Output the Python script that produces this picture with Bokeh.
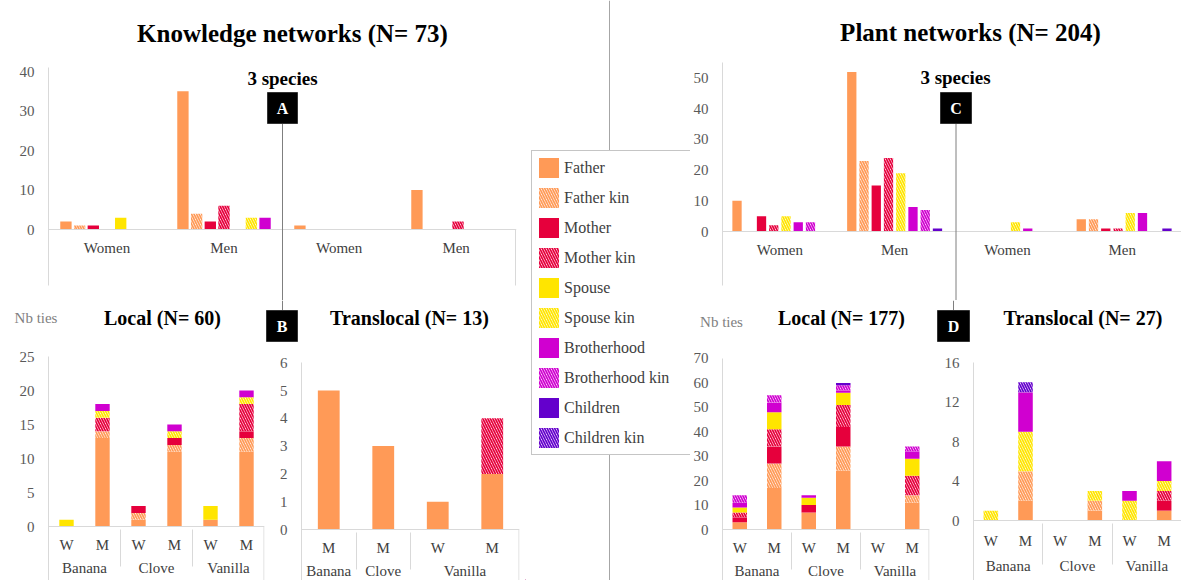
from bokeh.plotting import figure
from bokeh.models import (ColumnDataSource, FactorRange, Range1d, FixedTicker, Label, Arrow,
                          BoxAnnotation, Legend, LegendItem, Span)
from bokeh.layouts import row, column
from bokeh.transform import dodge, stack
from bokeh.embed import file_html
from bokeh.resources import INLINE

FONT = "Liberation Serif"

# ---------------- data ----------------
legend_names = ["Father", "Father kin", "Mother", "Mother kin", "Spouse", "Spouse kin",
                "Brotherhood", "Brotherhood kin", "Children", "Children kin"]

# Knowledge networks, 3 species (local Women/Men, translocal Women/Men)
kn_top_cats = ["Women", "Men", "Women ", "Men "]
kn_top = {
    "Father":      [2, 35, 1, 10],
    "Father kin":  [1, 4, 0, 0],
    "Mother":      [1, 2, 0, 0],
    "Mother kin":  [0, 6, 0, 2],
    "Spouse":      [3, 0, 0, 0],
    "Spouse kin":  [0, 3, 0, 0],
    "Brotherhood": [0, 3, 0, 0],
}
# Plant networks, 3 species
pl_top_cats = ["Women", "Men", "Women ", "Men "]
pl_top = {
    "Father":          [10, 52, 0, 4],
    "Father kin":      [0, 23, 0, 4],
    "Mother":          [5, 15, 0, 1],
    "Mother kin":      [2, 24, 0, 1],
    "Spouse":          [5, 19, 3, 6],
    "Brotherhood":     [3, 8, 1, 6],
    "Brotherhood kin": [3, 7, 0, 0],
    "Children":        [0, 1, 0, 1],
}

six_factors = [("Banana", "W"), ("Banana", "M"), ("Clove", "W"), ("Clove", "M"),
               ("Vanilla", "W"), ("Vanilla", "M")]

kn_local = {
    "Father":      [0, 13, 1, 11, 1, 11],
    "Father kin":  [0, 1, 1, 1, 0, 2],
    "Mother":      [0, 0, 1, 1, 0, 1],
    "Mother kin":  [0, 2, 0, 0, 0, 4],
    "Spouse":      [1, 0, 0, 0, 2, 0],
    "Spouse kin":  [0, 1, 0, 1, 0, 1],
    "Brotherhood": [0, 1, 0, 1, 0, 1],
}
kn_trans_factors = [("Banana", "M"), ("Clove", "M"), ("Vanilla", "W"), ("Vanilla", "M")]
kn_trans = {
    "Father":     [5, 3, 1, 2],
    "Mother kin": [0, 0, 0, 2],
}
pl_local = {
    "Father":          [3, 17, 7, 24, 0, 11],
    "Father kin":      [0, 10, 0, 10, 0, 3],
    "Mother":          [2, 7, 3, 8, 0, 0],
    "Mother kin":      [2, 7, 0, 9, 0, 8],
    "Spouse":          [2, 7, 3, 5, 0, 7],
    "Brotherhood":     [2, 4, 1, 1, 0, 3],
    "Brotherhood kin": [3, 3, 0, 2, 0, 2],
    "Children":        [0, 0, 0, 1, 0, 0],
}
pl_trans = {
    "Father":       [0, 2, 0, 1, 0, 1],
    "Father kin":   [0, 3, 0, 1, 0, 0],
    "Mother":       [0, 0, 0, 0, 0, 1],
    "Mother kin":   [0, 0, 0, 0, 0, 1],
    "Spouse kin":   [1, 4, 0, 1, 2, 1],
    "Brotherhood":  [0, 4, 0, 0, 1, 2],
    "Children kin": [0, 1, 0, 0, 0, 0],
}

# ---------------- styles ----------------
COLORS = {"Father": "#FF9A57", "Mother": "#E6003C", "Spouse": "#FFE500",
          "Brotherhood": "#D000D0", "Children": "#6400CC"}
AXIS_GREY = "#d9d9d9"
LINK_GREY = "#7f7f7f"


def style(name, hatched=None):
    col = COLORS[name.replace(" kin", "")]
    h = name.endswith(" kin") if hatched is None else hatched
    if h:
        return dict(fill_color="white", hatch_pattern="left_diagonal_line", hatch_color=col,
                    hatch_weight=1.7, hatch_scale=5, line_color=None)
    return dict(fill_color=col, line_color=None)


def no_align(p):
    try:
        p.frame_align = False
    except Exception:
        pass
    return p


def make_fig(w, h, xr, yr, ml, mr):
    p = figure(width=w, height=h, x_range=xr, y_range=yr, output_backend="svg",
               toolbar_location=None, tools="", min_border_left=ml, min_border_right=mr,
               min_border_top=0, min_border_bottom=0, outline_line_color=None,
               background_fill_color="white", border_fill_color="white")
    p.xgrid.visible = False
    p.ygrid.visible = False
    return no_align(p)


def blank_fig(w, h):
    p = figure(width=w, height=h, x_range=Range1d(0, w), y_range=Range1d(0, h),
               output_backend="svg", toolbar_location=None, tools="", min_border=0,
               x_axis_location=None, y_axis_location=None, outline_line_color=None,
               background_fill_color="white", border_fill_color="white")
    p.xgrid.visible = False
    p.ygrid.visible = False
    return no_align(p)


def style_axes(p, yticks, ybounds, xstandoff, nested):
    ya = p.yaxis[0]
    ya.ticker = FixedTicker(ticks=yticks)
    ya.bounds = ybounds
    ya.axis_line_color = AXIS_GREY
    ya.major_tick_line_color = None
    ya.minor_tick_line_color = None
    ya.major_label_text_font = FONT
    ya.major_label_text_font_size = "15px"
    ya.major_label_text_color = "#595959"
    ya.major_label_standoff = 8
    xa = p.xaxis[0]
    xa.fixed_location = 0
    xa.axis_line_color = AXIS_GREY
    xa.major_tick_line_color = None
    xa.minor_tick_line_color = None
    xa.major_label_text_font = FONT
    xa.major_label_text_font_size = "15px"
    xa.major_label_text_color = "#404040"
    xa.major_label_standoff = xstandoff
    if nested:
        xa.group_text_font = FONT
        xa.group_text_font_size = "15px"
        xa.group_text_font_style = "normal"
        xa.group_text_color = "#404040"
        try:
            xa.separator_line_color = AXIS_GREY
            xa.separator_line_width = 1
        except Exception:
            pass


def label(p, x, y, text, size, bold=True, color="black"):
    p.add_layout(Label(x=x, y=y, x_units="screen", y_units="screen", text=text,
                       text_font=FONT, text_font_size=size,
                       text_font_style="bold" if bold else "normal", text_color=color,
                       text_align="center", text_baseline="middle"))


def vline(p, x, y0, y1, color=AXIS_GREY):
    p.add_layout(Arrow(end=None, x_start=x, y_start=y0, x_end=x, y_end=y1,
                       start_units="screen", end_units="screen",
                       line_color=color, line_width=1))


def tag(p, left, right, top, bottom, letter):
    p.add_layout(BoxAnnotation(left=left, right=right, top=top, bottom=bottom,
                               left_units="screen", right_units="screen",
                               top_units="screen", bottom_units="screen",
                               fill_color="black", fill_alpha=1, line_color="#333333",
                               line_alpha=1, line_width=1))
    label(p, (left + right) / 2, (top + bottom) / 2, letter, "16px", True, "white")


def clustered(p, cats, data, slot, width, hatched=None):
    hatched = hatched or {}
    src = ColumnDataSource(dict(cat=cats, **data))
    n = len(data)
    for i, name in enumerate(data):
        off = (i - (n - 1) / 2) * slot
        p.vbar(x=dodge("cat", off, range=p.x_range), top=name, width=width, source=src,
               **style(name, hatched.get(name)))


def stacked(p, factors, data, width):
    src = ColumnDataSource(dict(x=factors, **data))
    prev = []
    for name in data:
        p.vbar(x="x", bottom=stack(*prev), top=stack(*prev, name), width=width, source=src,
               **style(name))
        prev.append(name)


def frange(factors):
    return FactorRange(*factors, group_padding=0, factor_padding=0, range_padding=0)


def flat_range(cats):
    return FactorRange(*cats, factor_padding=0, range_padding=0)


# Vertical bands (page pixels): top charts 0..300, sub-title strip 300..344, bottom 344..580
TOP_H, STRIP_H, BOT_H = 300, 44, 236

# ================= LEFT: Knowledge networks (x 0..525) =================
# top clustered chart: frame 48..516, zero at y=229 (3.95 px / tie)
kt = make_fig(525, TOP_H, flat_range(kn_top_cats), Range1d(-71 / 3.95, 229 / 3.95), 48, 9)
style_axes(kt, [0, 10, 20, 30, 40], (-56 / 3.95, 41), 4, False)
clustered(kt, kn_top_cats, kn_top, 0.117, 0.097)
label(kt, 244, 267, "Knowledge networks (N= 73)", "25px")
label(kt, 234, 222, "3 species", "19px")
vline(kt, 467, 71, 15)
vline(kt, 234, 177, 0, LINK_GREY)
tag(kt, 219, 249, 208, 177, "A")

# strip with sub-titles and the B tag (page y 300..344)
kh = blank_fig(525, STRIP_H)
label(kh, 35.5, 27, "Nb ties", "15px", False, "#7f7f7f")
label(kh, 162, 27, "Local (N= 60)", "20px")
label(kh, 409, 27, "Translocal (N= 13)", "20px")
vline(kh, 282, 44, 34, LINK_GREY)
tag(kh, 266, 297, 34, 3, "B")

# local stacked chart: frame 48..264, zero at page y 526 (6.8 px / tie)
kl = make_fig(266, BOT_H, frange(six_factors), Range1d(-54 / 6.8, 182 / 6.8), 48, 2)
style_axes(kl, [0, 5, 10, 15, 20, 25], (-54 / 6.8, 25), 4, True)
stacked(kl, six_factors, kn_local, 0.4)
vline(kl, 215.5, 54, 0)

# translocal stacked chart: frame 301..519, zero at page y 529 (27.8 px / tie)
ktr = make_fig(259, BOT_H, frange(kn_trans_factors), Range1d(-51 / 27.8, 185 / 27.8), 35, 6)
style_axes(ktr, [0, 1, 2, 3, 4, 5, 6], (-51 / 27.8, 6), 4, True)
stacked(ktr, kn_trans_factors, kn_trans, 0.4)
vline(ktr, 217.5, 51, 0)

# ================= MIDDLE: legend (x 525..690) =================
lg = blank_fig(165, 580)
lg.add_layout(Span(location=84, dimension="height", line_color="#a6a6a6", line_width=1,
                   level="underlay"))
items = []
for name in legend_names:
    r = lg.vbar(x=[-1000], top=[1], width=1, **style(name))
    items.append(LegendItem(label=name, renderers=[r]))
legend = Legend(items=items, location=(6, 125), glyph_width=25, glyph_height=25,
                spacing=5, padding=4, label_standoff=3, label_width=122,
                label_text_font=FONT, label_text_font_size="16px", label_text_color="#404040",
                border_line_color="#8c8c8c", border_line_width=1,
                background_fill_color="white", background_fill_alpha=1, margin=0)
lg.add_layout(legend)

# ================= RIGHT: Plant networks (x 690..1181) =================
pt = make_fig(491, TOP_H, flat_range(pl_top_cats), Range1d(-69 / 3.067, 231 / 3.067), 30, 0)
style_axes(pt, [0, 10, 20, 30, 40, 50], (-54 / 3.067, 55), 4, False)
clustered(pt, pl_top_cats, pl_top, 0.1067, 0.081, hatched={"Spouse": True})
label(pt, 248, 268, "Plant networks (N= 204)", "25px")
label(pt, 233, 223, "3 species", "19px")
vline(pt, 233.5, 177, 0, LINK_GREY)
tag(pt, 218, 249, 208, 177, "C")

ph = blank_fig(491, STRIP_H)
label(ph, 31, 23, "Nb ties", "15px", False, "#7f7f7f")
label(ph, 151, 27, "Local (N= 177)", "20px")
label(ph, 392.5, 27, "Translocal (N= 27)", "20px")
vline(ph, 263, 44, 34, LINK_GREY)
tag(ph, 247, 279, 34, 3, "D")

pl = make_fig(245, BOT_H, frange(six_factors), Range1d(-51 / 2.443, 185 / 2.443), 32, 6)
style_axes(pl, [0, 10, 20, 30, 40, 50, 60, 70], (-51 / 2.443, 70), 4, True)
stacked(pl, six_factors, pl_local, 0.42)
vline(pl, 206.5, 51, 0)

ptr = make_fig(246, BOT_H, frange(six_factors), Range1d(-60 / 9.875, 176 / 9.875), 38, 0)
style_axes(ptr, [0, 4, 8, 12, 16], (-60 / 9.875, 16), 6, True)
stacked(ptr, six_factors, pl_trans, 0.42)

layout = row(
    column(kt, kh, row(kl, ktr, spacing=0), spacing=0),
    lg,
    column(pt, ph, row(pl, ptr, spacing=0), spacing=0),
    spacing=0,
)

with open("out.html", "w") as f:
    f.write(file_html(layout, INLINE))
